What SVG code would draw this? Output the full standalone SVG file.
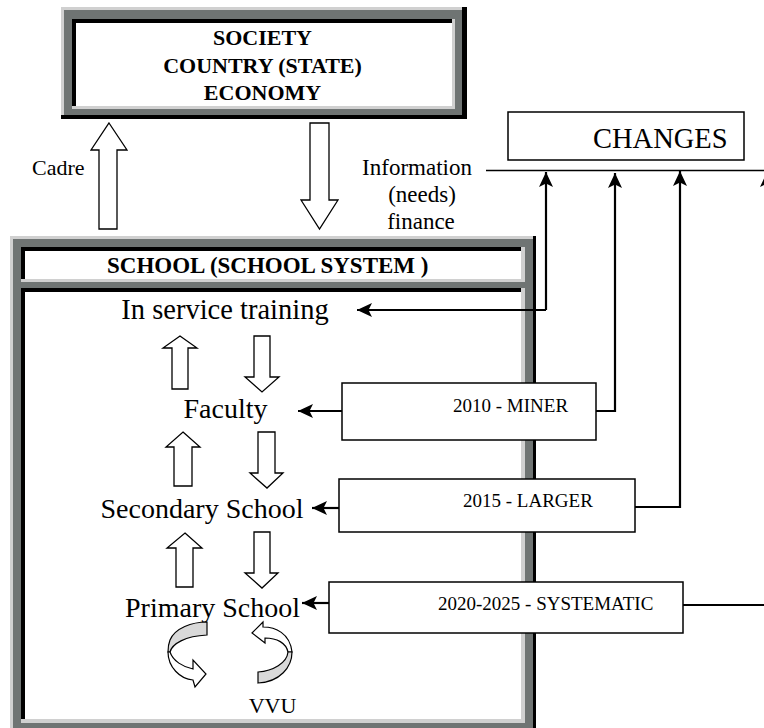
<svg xmlns="http://www.w3.org/2000/svg" width="764" height="728" viewBox="0 0 764 728">
<defs>
<style>
.t{font-family:"Liberation Serif","Times New Roman",serif;fill:#000}
.b{font-weight:bold}
.dg{fill:#6f7473}
.lg{fill:#d0d0d0}
.bk{fill:#000}
.wh{fill:#fff}
.box{fill:#fff;stroke:#000;stroke-width:1.5}
.blk{fill:#fff;stroke:#000;stroke-width:1.3;stroke-linejoin:miter}
.con{fill:none;stroke:#000;stroke-width:2.2}
.thin{fill:none;stroke:#000;stroke-width:1.3}
.curg{fill:#d9d9d9;stroke:#000;stroke-width:1.2}
.curw{fill:#fff;stroke:#000;stroke-width:1.2}
</style>
<marker id="ah" markerUnits="userSpaceOnUse" markerWidth="16" markerHeight="16" viewBox="0 0 16 16" refX="15" refY="8" orient="auto">
<path d="M0,1 L15,8 L0,15 L3.5,8 Z" fill="#000"/>
</marker>
</defs>

<g id="society">
<rect class="dg" x="61" y="7" width="406" height="112"/>
<rect class="lg" x="61" y="7" width="406" height="3"/>
<rect class="lg" x="61" y="7" width="3" height="108"/>
<rect class="bk" x="61" y="115" width="406" height="4"/>
<rect class="bk" x="462" y="7" width="5" height="112"/>
<rect class="lg" x="72" y="19" width="383" height="90"/>
<rect class="bk" x="72" y="19" width="380" height="87"/>
<rect class="wh" x="76" y="23" width="376" height="83"/>
<text class="t b" x="262.5" y="45" font-size="22" text-anchor="middle">SOCIETY</text>
<text class="t b" x="262.5" y="73" font-size="22" text-anchor="middle">COUNTRY (STATE)</text>
<text class="t b" x="262.5" y="100" font-size="22" text-anchor="middle">ECONOMY</text>
</g>

<g id="changes">
<rect class="box" x="508" y="112" width="236" height="48"/>
<text class="t" x="593" y="148" font-size="28.5">CHANGES</text>
</g>

<g id="school">
<rect class="dg" x="10" y="236" width="526" height="497"/>
<rect class="lg" x="10" y="236" width="526" height="3"/>
<rect class="lg" x="10" y="236" width="3" height="497"/>
<rect class="bk" x="533" y="236" width="3" height="497"/>
<rect class="lg" x="21" y="247" width="504" height="35"/>
<rect class="bk" x="21" y="247" width="500" height="32"/>
<rect class="wh" x="25" y="251" width="496" height="28"/>
<rect class="lg" x="21" y="288" width="504" height="435"/>
<rect class="bk" x="21" y="288" width="500" height="431"/>
<rect class="wh" x="25" y="292" width="496" height="427"/>
<text class="t b" x="107" y="273" font-size="23">SCHOOL (SCHOOL SYSTEM )</text>
</g>

<g id="inservice"><text class="t" x="225" y="319" font-size="28.5" text-anchor="middle">In service training</text></g>
<g id="faculty"><text class="t" x="225.5" y="418" font-size="28" text-anchor="middle">Faculty</text></g>
<g id="secondary"><text class="t" x="202" y="518" font-size="28" text-anchor="middle">Secondary School</text></g>
<g id="primary"><text class="t" x="212.5" y="617" font-size="28" text-anchor="middle">Primary School</text></g>
<g id="vvu"><text class="t" x="272.5" y="713" font-size="22" text-anchor="middle">VVU</text></g>

<g id="y2010">
<rect class="box" x="342" y="383" width="254" height="57"/>
<text class="t" x="453" y="412" font-size="19">2010 - MINER</text>
</g>
<g id="y2015">
<rect class="box" x="339" y="479" width="296" height="53"/>
<text class="t" x="463" y="507" font-size="19">2015 - LARGER</text>
</g>
<g id="y2020">
<rect class="box" x="329" y="582" width="354" height="51"/>
<text class="t" x="438" y="610" font-size="19">2020-2025 - SYSTEMATIC</text>
</g>

<g id="labels">
<text class="t" x="32" y="175" font-size="22">Cadre</text>
<text class="t" x="417" y="175" font-size="23" text-anchor="middle">Information</text>
<text class="t" x="422" y="202" font-size="23" text-anchor="middle">(needs)</text>
<text class="t" x="421" y="229" font-size="23" text-anchor="middle">finance</text>
</g>

<g id="connectors">
<path class="blk" d="M109,123 L127,150 L117,150 L117,229 L99,229 L99,150 L91,150 Z"/>
<path class="blk" d="M310,123 L329,123 L329,200 L338,200 L319.5,229 L301,200 L310,200 Z"/>
<path class="blk" d="M180,336 L197,348 L188,348 L188,389 L172,389 L172,348 L163,348 Z"/>
<path class="blk" d="M254,336 L270,336 L270,377 L279,377 L262,392 L245,377 L254,377 Z"/>
<path class="blk" d="M183,432 L200,447 L192,447 L192,486 L174,486 L174,447 L166,447 Z"/>
<path class="blk" d="M258,432 L275,432 L275,473 L283,473 L267,488 L250,473 L258,473 Z"/>
<path class="blk" d="M185,533 L202,548 L193,548 L193,587 L176,587 L176,548 L167,548 Z"/>
<path class="blk" d="M254,532 L270,532 L270,573 L278,573 L262,588 L245,573 L254,573 Z"/>
<path class="curg" d="M207,622 C192,622 175,628 170,640 C168,645 168,650 168,652 L170,652 C172,644 185,636 207,635 Z"/>
<path class="curw" d="M168,652 C168,667 180,679 193,680 L195,687 L206,674 L193,660 L193,669 C183,667 173,661 170,652 Z"/>
<path class="curw" d="M252,633 L263,622 L263,627 C275,627 290,633 292,652 L288,652 C286,643 277,638 265,638 L265,643 Z"/>
<path class="curg" d="M292,652 C292,667 280,682 258,683 L258,672 C273,671 287,663 288,652 Z"/>
<path class="thin" d="M486,170.5 L764,170.5"/>
<path class="con" d="M546,310 L357,310" marker-end="url(#ah)"/>
<path class="con" d="M546,310 L546,172" marker-end="url(#ah)"/>
<path class="con" d="M596,411 L615,411 L615,173" marker-end="url(#ah)"/>
<path class="con" d="M635,507 L680,507 L680,171" marker-end="url(#ah)"/>
<path class="con" d="M683,605 L767,605 L767,172" marker-end="url(#ah)"/>
<path class="con" d="M342,411 L298,411" marker-end="url(#ah)"/>
<path class="con" d="M339,508 L312,508" marker-end="url(#ah)"/>
<path class="con" d="M329,603 L302,603" marker-end="url(#ah)"/>
</g>
</svg>
